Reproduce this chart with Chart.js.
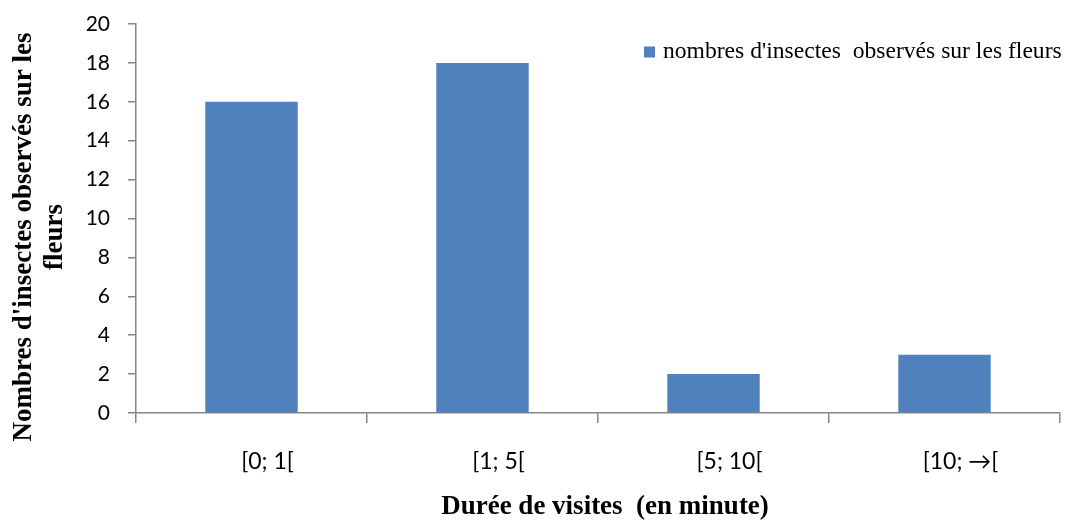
<!DOCTYPE html>
<html>
<head>
<meta charset="utf-8">
<script src="https://cdn.jsdelivr.net/npm/chart.js@4"></script>
<style>
  html, body { margin: 0; padding: 0; background: #fff; }
  #box { width: 1067px; height: 521px; }
</style>
</head>
<body>
<div id="box"><canvas id="chart"></canvas></div>
<script>
// Kategorien (Dauer der Besuche) und Werte
const categories = ['[0; 1[', '[1; 5[', '[5; 10[', '[10; \u2192['];
const insectCounts = [16, 18, 2, 3];
const seriesLabel = "nombres d'insectes  observés sur les fleurs";
const yTitle = ["Nombres d'insectes observés sur les", 'fleurs'];
const xTitle = 'Durée de visites  (en minute)';

const axisGray = '#868686';
const barBlue = '#4F81BD';

// Legende und Achsentitel selbst zeichnen (Position wie im Original)
const extraText = {
    id: 'extraText',
    afterDraw(chart) {
        const ctx = chart.ctx;
        const ds = chart.data.datasets[0];
        ctx.save();
        // Legende oben rechts in der Grafikfläche
        ctx.font = '23.6px "Liberation Serif"';
        ctx.textBaseline = 'middle';
        ctx.textAlign = 'left';
        const textX = 663;
        const midY = 52;
        ctx.fillStyle = ds.backgroundColor;
        ctx.fillRect(textX - 19, midY - 5.5, 11, 11);
        ctx.fillStyle = '#000';
        ctx.fillText(ds.label, textX, midY);

        // X-Achsentitel
        ctx.font = 'bold 27px "Liberation Serif"';
        ctx.textAlign = 'center';
        ctx.fillText(xTitle, 605, 507);

        // Y-Achsentitel (zwei Zeilen, gedreht)
        ctx.translate(0, 237);
        ctx.rotate(-Math.PI / 2);
        ctx.fillText(yTitle[0], 0, 24);
        ctx.fillText(yTitle[1], 0, 55);
        ctx.restore();
    }
};

const config = {
    type: 'bar',
    data: {
        labels: categories,
        datasets: [{
            label: seriesLabel,
            data: insectCounts,
            backgroundColor: barBlue,
            borderWidth: 0,
            categoryPercentage: 1,
            barPercentage: 0.4
        }]
    },
    options: {
        responsive: true,
        maintainAspectRatio: false,
        animation: false,
        layout: { padding: { top: 24, right: 7, left: 0, bottom: 0 } },
        plugins: {
            legend: { display: false },
            tooltip: { enabled: false }
        },
        scales: {
            x: {
                afterFit: (scale) => { scale.height = 108; },
                grid: {
                    offset: true,
                    drawOnChartArea: false,
                    color: axisGray,
                    lineWidth: 1.5,
                    tickLength: 10
                },
                border: { color: axisGray, width: 1.5 },
                ticks: {
                    color: '#000',
                    padding: 25,
                    labelOffset: 16,
                    font: { family: 'Lato', size: 23 }
                }
            },
            y: {
                min: 0,
                max: 20,
                afterFit: (scale) => {
                    scale.width = 136;
                    scale.paddingTop = 0;
                    scale.paddingBottom = 0;
                },
                ticks: {
                    stepSize: 2,
                    color: '#000',
                    padding: 18,
                    font: { family: 'Lato', size: 21 }
                },
                grid: {
                    drawOnChartArea: false,
                    color: axisGray,
                    lineWidth: 1.5,
                    tickLength: 8
                },
                border: { color: axisGray, width: 1.5 }
            }
        }
    },
    plugins: [extraText]
};

new Chart(document.getElementById('chart'), config);
</script>
</body>
</html>
